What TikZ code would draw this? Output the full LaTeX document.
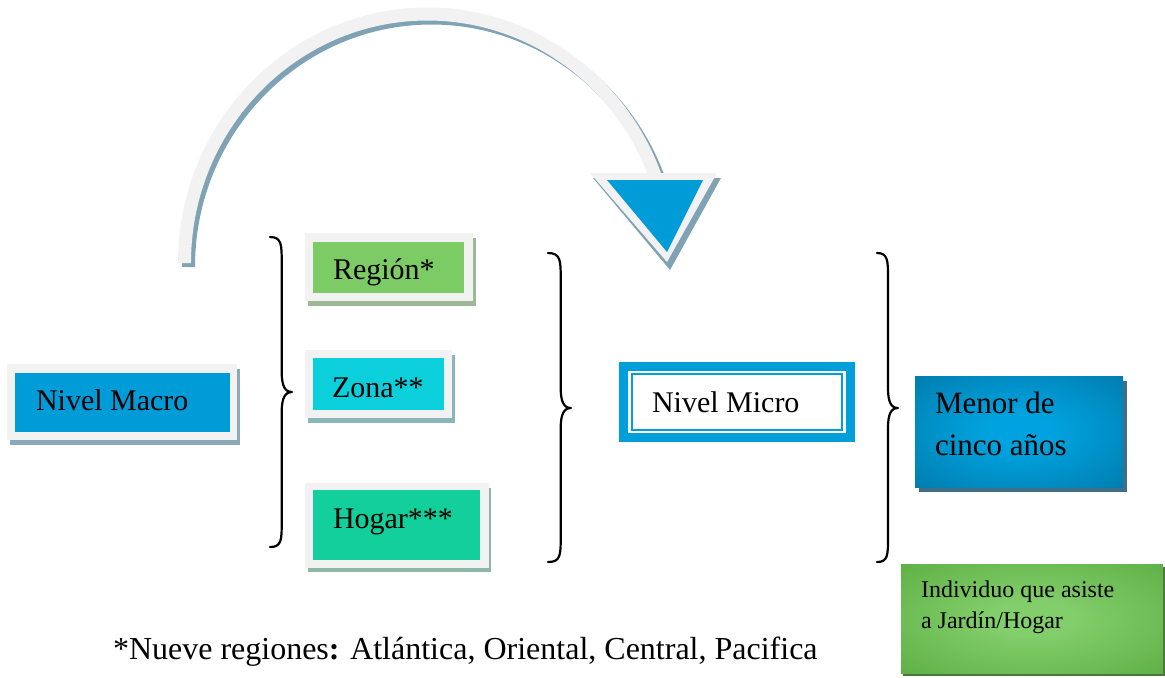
\documentclass[tikz,border=0pt]{standalone}
\usepackage{fontspec}
\setmainfont{Liberation Serif}
\usetikzlibrary{fit}
\definecolor{framegray}{HTML}{F2F2F2}
\definecolor{macroblue}{HTML}{009CD8}
\definecolor{macrosh}{HTML}{8AAAB9}
\definecolor{regiongreen}{HTML}{7DCB64}
\definecolor{regionsh}{HTML}{9DB894}
\definecolor{zonacyan}{HTML}{0CCFDC}
\definecolor{zonash}{HTML}{8AB5BA}
\definecolor{hogargreen}{HTML}{12CF9B}
\definecolor{hogarsh}{HTML}{8DB8A8}
\definecolor{microblue}{HTML}{009FDA}
\definecolor{menorin}{HTML}{00A3DF}
\definecolor{menorout}{HTML}{006F9E}
\definecolor{menorsh}{HTML}{3F6E86}
\definecolor{indivin}{HTML}{82CE6A}
\definecolor{indivout}{HTML}{52A53A}
\definecolor{indivsh}{HTML}{4C7540}
\definecolor{arcsh}{HTML}{7FA3B5}
\pgfdeclareradialshading{menorshade}{\pgfpoint{0bp}{0bp}}{color(0bp)=(menorin); color(8bp)=(menorin); color(46bp)=(menorout); color(50bp)=(menorout)}
\pgfdeclareradialshading{indivshade}{\pgfpoint{0bp}{0bp}}{color(0bp)=(indivin); color(8bp)=(indivin); color(46bp)=(indivout); color(50bp)=(indivout)}
\begin{document}
\begin{tikzpicture}[x=0.5pt,y=-0.5pt,
  boxarea/.style={inner sep=0pt, outer sep=0pt, draw=none},
  txt/.style={anchor=base west, inner sep=0pt, outer sep=0pt, font=\fontsize{15}{18}\selectfont},
  smalltxt/.style={anchor=base west, inner sep=0pt, outer sep=0pt, font=\fontsize{12}{14}\selectfont},
  bracepath/.style={line width=1.1pt, line join=round, line cap=round},
]
\useasboundingbox (0,0) rectangle (1165,677);

% ---------- curved arrow ----------
\draw[arcsh, line width=6.5pt] (188.5,267) arc[start angle=180, end angle=340, x radius=243, y radius=249];
\coordinate (arcstart) at (184.5,263);
\draw[framegray, line width=6.5pt] (arcstart) arc[start angle=180, end angle=340, x radius=243, y radius=249];
\fill[arcsh] (593,178) -- (721,178) -- (670,270) -- cycle;
\fill[framegray] (590,173) -- (717,173) -- (667,262) -- cycle;
\fill[macroblue] (607,180) -- (703,180) -- (667,252) -- cycle;

% ---------- Nivel Macro ----------
\fill[macrosh] (10,369) rectangle (240,445);
\fill[framegray] (7,364) rectangle (237,440);
\node[boxarea, fill=macroblue, fit={(15,373) (230,432)}] (macro) {};
\node[txt] (macrotxt) at (36,410) {Nivel Macro};

% ---------- Region ----------
\fill[regionsh] (308,238) rectangle (476,306);
\fill[framegray] (305,233) rectangle (473,301);
\node[boxarea, fill=regiongreen, fit={(313,242) (464,293)}] (region) {};
\node[txt] (regiontxt) at (333,279) {Región*};

% ---------- Zona ----------
\fill[zonash] (308,355) rectangle (455,423);
\fill[framegray] (305,350) rectangle (452,418);
\node[boxarea, fill=zonacyan, fit={(313,358) (444,410)}] (zona) {};
\node[txt] (zonatxt) at (332,397) {Zona**};

% ---------- Hogar ----------
\fill[hogarsh] (308,488) rectangle (491,572);
\fill[framegray] (305,483) rectangle (489,568);
\node[boxarea, fill=hogargreen, fit={(313,490) (480,560)}] (hogar) {};
\node[txt] (hogartxt) at (333,528) {Hogar***};

% ---------- Nivel Micro ----------
\node[boxarea, fill=microblue, fit={(619,362) (855,442)}] (micro) {};
\fill[white] (628,371) rectangle (846,433);
\draw[microblue, line width=1pt] (631.7,374) rectangle (842.3,430);
\node[txt] (microtxt) at (652,412) {Nivel Micro};

% ---------- Menor de cinco años ----------
\fill[menorsh] (919,381) rectangle (1127,492);
\node[boxarea, shading=menorshade, fit={(915,376) (1123,487)}] (menor) {};
\node[txt, font=\fontsize{15.5}{18}\selectfont] (menortxta) at (935,413) {Menor de};
\node[txt, font=\fontsize{15.5}{18}\selectfont] (menortxtb) at (935,455) {cinco años};

% ---------- Individuo ----------
\fill[indivsh] (903,567) rectangle (1165,676);
\node[boxarea, shading=indivshade, fit={(901,564) (1163,673)}] (indiv) {};
\node[smalltxt] (indivtxta) at (921,597) {Individuo que asiste};
\node[smalltxt] (indivtxtb) at (921,628) {a Jardín/Hogar};

% ---------- braces ----------
\draw[bracepath] (270,237) .. controls (281.7,237) and (281.7,245) .. (281.7,262)
  -- (281.7,372) .. controls (281.7,386) and (285,392) .. (292,392)
  .. controls (285,392) and (281.7,398) .. (281.7,412)
  -- (281.7,522) .. controls (281.7,540) and (281.7,547) .. (270,547);
\draw[bracepath] (548,253) .. controls (560.7,253) and (560.7,261) .. (560.7,278)
  -- (560.7,388) .. controls (560.7,402) and (564,408) .. (571,408)
  .. controls (564,408) and (560.7,414) .. (560.7,428)
  -- (560.7,537) .. controls (560.7,555) and (560.7,562) .. (548,562);
\draw[bracepath] (877,253) .. controls (888,253) and (888,261) .. (888,278)
  -- (888,388) .. controls (888,402) and (891,408) .. (898,408)
  .. controls (891,408) and (888,414) .. (888,428)
  -- (888,537) .. controls (888,555) and (888,562) .. (877,562);

% ---------- footnote ----------
\node[txt, font=\fontsize{16}{19}\selectfont] (footnote) at (113,659) {*Nueve regiones\textbf{:} Atlántica, Oriental, Central, Pacifica};
\end{tikzpicture}
\end{document}
